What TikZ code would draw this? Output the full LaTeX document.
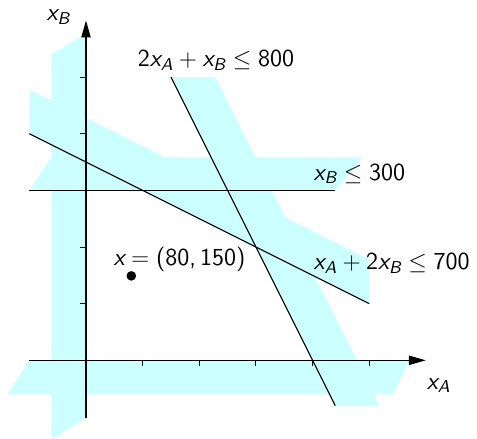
\documentclass[tikz,border=0pt]{standalone}
\usepackage{amsmath}
\usetikzlibrary{arrows.meta}
\definecolor{bandcol}{RGB}{204,255,255}
\newcommand\xA{\textit{x}_{\textit{A}}}
\newcommand\xB{\textit{x}_{\textit{B}}}
\tikzset{
  band/.style={fill=bandcol, draw=none},
  axisline/.style={line width=0.7pt, -{Triangle[length=8.5pt,width=4.6pt]}},
  cline/.style={line width=0.55pt},
  tickmark/.style={line width=0.5pt},
  lbl/.style={anchor=base west, inner sep=0pt, font=\sffamily\fontsize{12.3}{14}\selectfont},
  dotstyle/.style={circle, fill=black, inner sep=0pt, minimum size=0.17cm},
}
\begin{document}
\begin{tikzpicture}
\useasboundingbox (-1.518,-1.389) rectangle (6.902,6.360);
% shaded bands
\fill[band] (0,-1.01) -- (0,5.77) -- (-0.61,5.40) -- (-0.61,-1.40) -- cycle;
\fill[band] (-1,0) -- (5.71,0) -- (5.42,-0.6) -- (-1.39,-0.6) -- cycle;
\fill[band] (-1,3) -- (4.4,3) -- (4.89,3.59) -- (-0.61,3.59) -- cycle;
\fill[band] (-1,4) -- (5,1) -- (5,1.78) -- (-1,4.78) -- cycle;
\fill[band] (1.5,5) -- (4.4,-0.8) -- (5.18,-0.8) -- (2.28,5) -- cycle;
% named end points
\coordinate (xs) at (-1,0);
\coordinate (xe) at (6,0);
\coordinate (ys) at (0,-1.01);
\coordinate (ye) at (0,6);
\coordinate (c1s) at (-1,3);
\coordinate (c1e) at (4.4,3);
\coordinate (c2s) at (1.5,5);
\coordinate (c2e) at (4.4,-0.8);
\coordinate (c3s) at (-1,4);
\coordinate (c3e) at (5,1);
% constraint lines
\draw[cline] (c1s) -- (c1e);
\draw[cline] (c2s) -- (c2e);
\draw[cline] (c3s) -- (c3e);
% axes
\draw[axisline] (xs) -- (xe);
\draw[axisline] (ys) -- (ye);
\foreach \i in {1,...,5} {
  \draw[tickmark] (\i,0) -- (\i,-0.1);
  \draw[tickmark] (0,\i) -- (-0.1,\i);
}
% labels
\node[lbl] (lxa) at (6.01,-0.51) {$\xA$};
\node[lbl] (lxb) at (-0.70,6.0) {$\xB$};
\node[lbl] (l800) at (0.91,5.18) {$\mbox{2}\xA + \xB \leq \mbox{800}$};
\node[lbl] (l300) at (4.01,3.18) {$\xB \leq \mbox{300}$};
\node[lbl] (l700) at (4.01,1.594) {$\xA + \mbox{2}\xB \leq \mbox{700}$};
\node[lbl] (lpt) at (0.48,1.682) {$\textit{x} = \mbox{(80,\,150)}$};
\node[dotstyle] (pt) at (0.8,1.49) {};
\end{tikzpicture}
\end{document}
